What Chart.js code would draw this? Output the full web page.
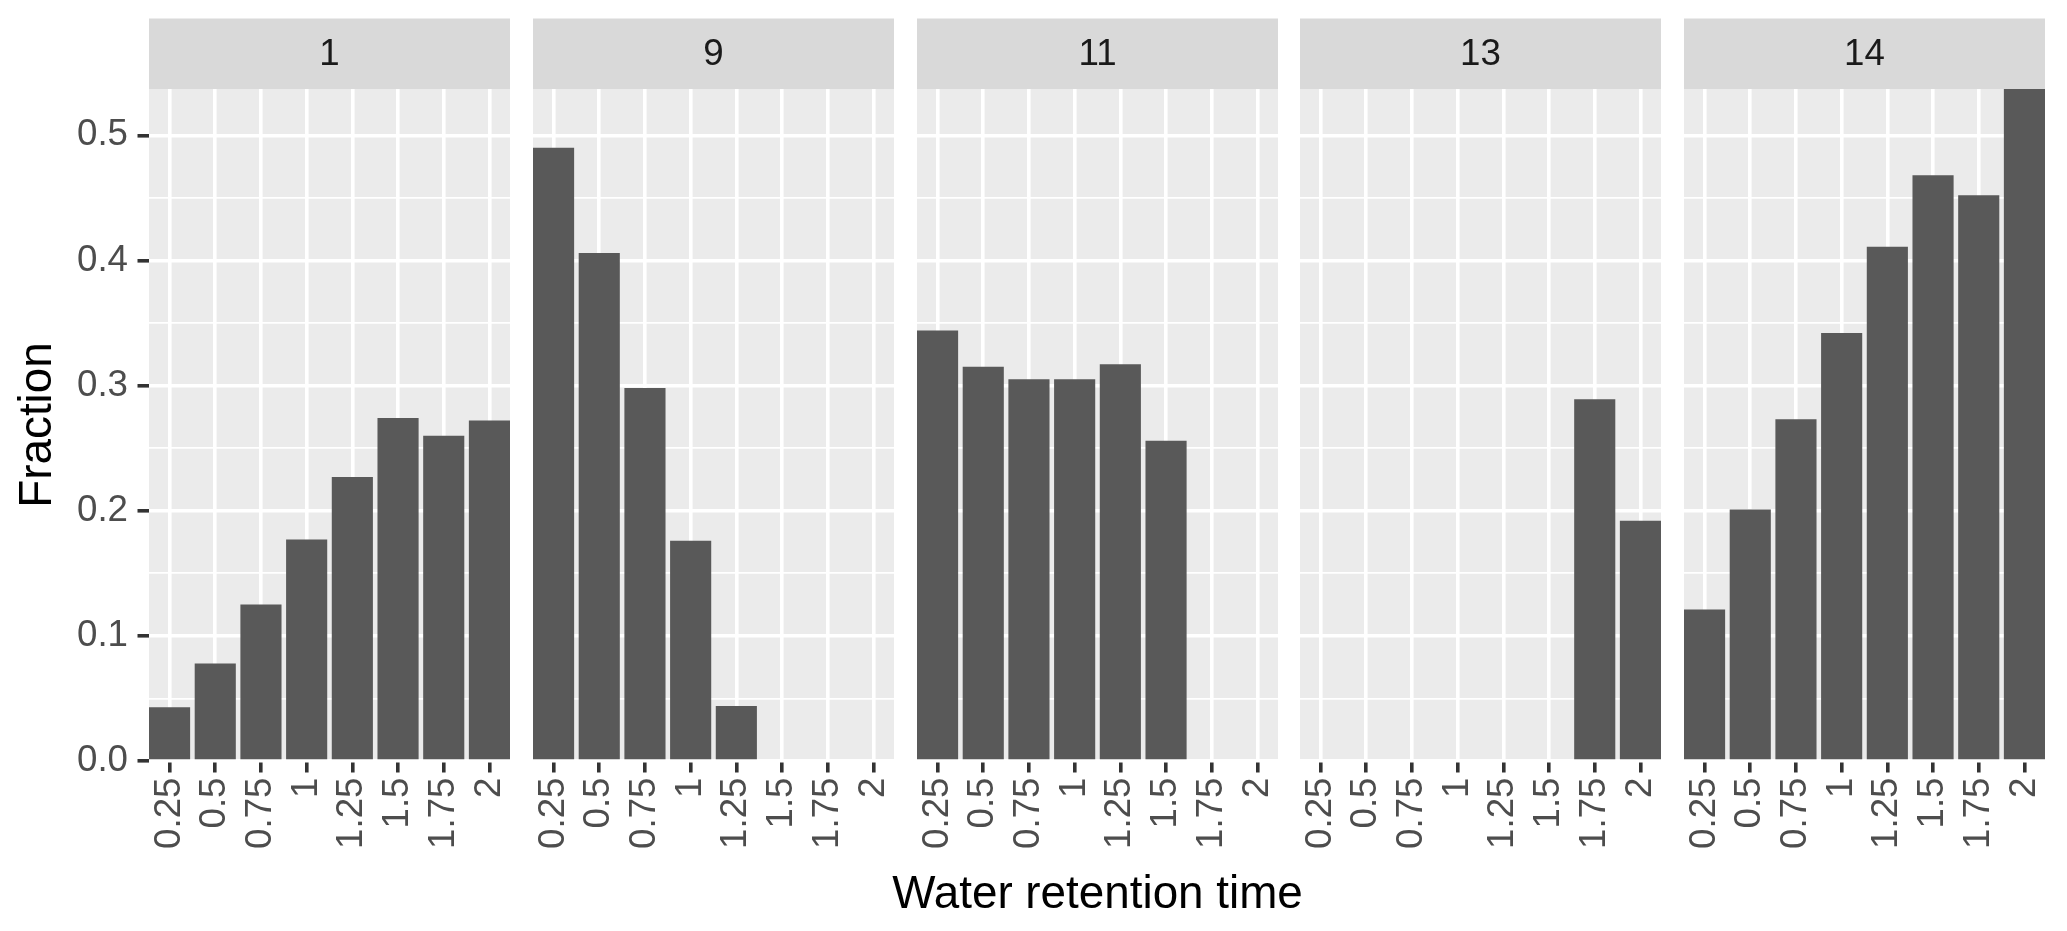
<!DOCTYPE html>
<html>
<head>
<meta charset="utf-8">
<script src="https://cdn.jsdelivr.net/npm/chart.js@4.4.1/dist/chart.umd.min.js"></script>
<style>
  html, body { margin: 0; padding: 0; background: #fff; }
  #wrap { position: relative; width: 2067px; height: 931px; overflow: hidden; }
  .panel { position: absolute; top: 0; height: 931px; }
</style>
</head>
<body>
<div id="wrap"></div>
<script>
// data
const categories = ["0.25", "0.5", "0.75", "1", "1.25", "1.5", "1.75", "2"];
const panelNames = ["1", "9", "11", "13", "14"];
const fraction1  = [0.043, 0.078, 0.125, 0.177, 0.227, 0.274, 0.260, 0.272];
const fraction9  = [0.490, 0.406, 0.298, 0.176, 0.044, null, null, null];
const fraction11 = [0.344, 0.315, 0.305, 0.305, 0.317, 0.256, null, null];
const fraction13 = [null, null, null, null, null, null, 0.289, 0.192];
const fraction14 = [0.121, 0.201, 0.273, 0.342, 0.411, 0.468, 0.452, 0.537];
const yMajorTicks = [0, 0.1, 0.2, 0.3, 0.4, 0.5];
const yTickLabels = ["0.0", "0.1", "0.2", "0.3", "0.4", "0.5"];
const yMinorTicks = [0.05, 0.15, 0.25, 0.35, 0.45];
const xTitle = "Water retention time";
const yTitle = "Fraction";

const panelValues = [fraction1, fraction9, fraction11, fraction13, fraction14];

// layout (px)
const FONT = '"Liberation Sans", Arial, sans-serif';
const STRIP_TOP = 18.5;
const PANEL_TOP = 89;
const XAXIS_H = 931 - 761;
const YAXIS_W = 149;
const PANEL_W = 361;
const PANEL_STEP = 383.75;
const TITLE_PAD = 160;   // extra room round the middle panel for the x title
const X_TITLE_Y = 895;

const yMax = Math.max(...panelValues.flat().filter(v => v != null));
const yAllTicks = [...yMajorTicks, ...yMinorTicks].sort((a, b) => a - b);
const isMajor = v => Math.abs(v * 10 - Math.round(v * 10)) < 1e-6;

// panel background + facet strip
const stripPlugin = {
  id: 'strip',
  beforeDraw(chart, args, opts) {
    const { ctx, chartArea: a } = chart;
    ctx.save();
    ctx.fillStyle = '#EBEBEB';
    ctx.fillRect(a.left, a.top, a.right - a.left, a.bottom - a.top);
    ctx.fillStyle = '#D9D9D9';
    ctx.fillRect(a.left, STRIP_TOP, a.right - a.left, a.top - STRIP_TOP);
    ctx.fillStyle = '#1A1A1A';
    ctx.font = '36.7px ' + FONT;
    ctx.textAlign = 'center';
    ctx.textBaseline = 'middle';
    ctx.fillText(opts.label, (a.left + a.right) / 2, (STRIP_TOP + a.top) / 2 + 1);
    if (opts.axisTitle) {
      ctx.fillStyle = '#000000';
      ctx.font = '45.8px ' + FONT;
      ctx.fillText(opts.axisTitle, (a.left + a.right) / 2, X_TITLE_Y);
    }
    ctx.restore();
  }
};

const wrap = document.getElementById('wrap');

panelValues.forEach((values, i) => {
  const first = i === 0;
  const middle = i === 2;
  const panelLeft = Math.round(YAXIS_W + i * PANEL_STEP);
  const div = document.createElement('div');
  div.className = 'panel';
  if (first) {
    div.style.left = '0px';
    div.style.width = (YAXIS_W + PANEL_W) + 'px';
  } else if (middle) {
    div.style.left = (panelLeft - TITLE_PAD) + 'px';
    div.style.width = (PANEL_W + 2 * TITLE_PAD) + 'px';
  } else {
    div.style.left = panelLeft + 'px';
    div.style.width = PANEL_W + 'px';
  }
  const canvas = document.createElement('canvas');
  div.appendChild(canvas);
  wrap.appendChild(div);

  const side = middle ? TITLE_PAD : 0;

  new Chart(canvas, {
    type: 'bar',
    data: {
      datasets: [{
        data: values.map((v, j) => ({ x: j + 1, y: v })),
        backgroundColor: '#595959',
        borderWidth: 0,
        barPercentage: 0.9,
        categoryPercentage: 1
      }]
    },
    options: {
      responsive: true,
      maintainAspectRatio: false,
      animation: false,
      layout: { padding: { top: PANEL_TOP, left: side, right: side, bottom: 0 } },
      plugins: {
        legend: { display: false },
        tooltip: { enabled: false },
        strip: { label: panelNames[i], axisTitle: middle ? xTitle : null }
      },
      scales: {
        x: {
          type: 'linear',
          min: 0.55,
          max: categories.length + 0.45,
          offset: false,
          afterBuildTicks: s => { s.ticks = categories.map((c, j) => ({ value: j + 1 })); },
          afterFit: s => { s.height = XAXIS_H; s.paddingLeft = 0; s.paddingRight = 0; },
          grid: { color: '#ffffff', lineWidth: 3.6, offset: false, drawTicks: true, tickLength: 11.5, tickColor: '#333333', tickWidth: 3.6 },
          border: { display: false },
          ticks: {
            autoSkip: false, maxRotation: 90, minRotation: 90, padding: 5,
            color: '#4D4D4D', font: { family: FONT, size: 36.7 },
            callback: v => categories[Math.round(v) - 1]
          }
        },
        y: {
          min: 0,
          max: yMax,
          afterBuildTicks: s => { s.ticks = yAllTicks.map(v => ({ value: v })); },
          afterFit: s => { s.width = first ? YAXIS_W : 0; s.paddingTop = 0; s.paddingBottom = 0; },
          grid: {
            color: '#ffffff',
            lineWidth: c => isMajor(c.tick.value) ? 3.6 : 1.8,
            drawTicks: first, tickLength: 11.5, tickWidth: 3.6,
            tickColor: c => isMajor(c.tick.value) ? '#333333' : 'rgba(0,0,0,0)'
          },
          border: { display: false },
          ticks: {
            display: first, padding: 9.5, color: '#4D4D4D', font: { family: FONT, size: 36.7 },
            callback: v => {
              const k = yMajorTicks.findIndex(t => Math.abs(t - v) < 1e-9);
              return k >= 0 ? yTickLabels[k] : '';
            }
          },
          title: {
            display: first, text: yTitle, color: '#000000',
            font: { family: FONT, size: 45.8 }, padding: { top: 11, bottom: 0 }
          }
        }
      }
    },
    plugins: [stripPlugin]
  });
});
</script>
</body>
</html>
